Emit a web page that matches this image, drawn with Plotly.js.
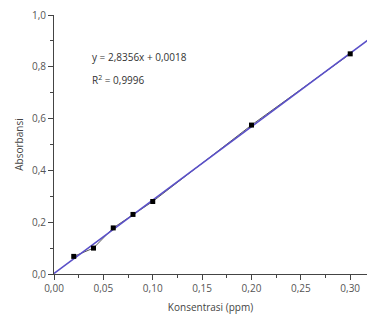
<!DOCTYPE html>
<html>
<head>
<meta charset="utf-8">
<script src="https://cdn.plot.ly/plotly-3.0.1.min.js"></script>
<style>html,body{margin:0;padding:0;background:#fff;}#chart{width:367px;height:323px;}</style>
</head>
<body>
<div id="chart"></div>
<script>
const konsentrasi = [0.02, 0.04, 0.06, 0.08, 0.10, 0.20, 0.30];
const absorbansi = [0.068, 0.100, 0.178, 0.230, 0.280, 0.575, 0.850];
const slope = 2.8356;
const intercept = 0.0018;
const fitX = [0, 0.32];
const fitY = fitX.map(x => slope * x + intercept);
const xTicks = [0, 0.05, 0.10, 0.15, 0.20, 0.25, 0.30];
const xTickLabels = ["0,00", "0,05", "0,10", "0,15", "0,20", "0,25", "0,30"];
const yTicks = [0, 0.2, 0.4, 0.6, 0.8, 1.0];
const yTickLabels = ["0,0", "0,2", "0,4", "0,6", "0,8", "1,0"];

const font = "Open Sans, Liberation Sans, sans-serif";
const traces = [
  {x: konsentrasi, y: absorbansi, mode: 'lines', line: {color: '#555', width: 1}, hoverinfo: 'skip'},
  {x: fitX, y: fitY, mode: 'lines', line: {color: '#5a50c8', width: 1.5}},
  {x: konsentrasi, y: absorbansi, mode: 'markers', marker: {symbol: 'square', size: 5, color: '#000'}}
];
const axisCommon = {
  showgrid: false, zeroline: false, showline: true, linecolor: '#444', linewidth: 1,
  ticks: 'outside', ticklen: 5, tickcolor: '#444', tickwidth: 1,
  tickfont: {family: font, size: 10, color: '#555'}
};
const layout = {
  width: 367, height: 323,
  margin: {l: 54, r: 0, t: 15, b: 49},
  paper_bgcolor: '#fff', plot_bgcolor: '#fff',
  showlegend: false,
  xaxis: Object.assign({}, axisCommon, {
    range: [0, 0.317], tickvals: xTicks, ticktext: xTickLabels,
    minor: {ticks: 'outside', dtick: 0.025, ticklen: 3, tickcolor: '#444'},
    title: {text: 'Konsentrasi (ppm)', font: {family: font, size: 10, color: '#444'}, standoff: 9}
  }),
  yaxis: Object.assign({}, axisCommon, {
    range: [0, 1.0], tickvals: yTicks, ticktext: yTickLabels,
    minor: {ticks: 'outside', dtick: 0.1, ticklen: 3, tickcolor: '#444'},
    title: {text: 'Absorbansi', font: {family: font, size: 10, color: '#444'}, standoff: 6}
  }),
  annotations: [
    {x: 0.036, y: 0.838, xref: 'x', yref: 'y', xanchor: 'left', yanchor: 'middle', showarrow: false,
     text: 'y = 2,8356x + 0,0018', font: {family: font, size: 10, color: '#333'}},
    {x: 0.036, y: 0.749, xref: 'x', yref: 'y', xanchor: 'left', yanchor: 'middle', showarrow: false,
     text: 'R<sup>2</sup> = 0,9996', font: {family: font, size: 10, color: '#333'}}
  ]
};
Plotly.newPlot('chart', traces, layout, {displayModeBar: false, staticPlot: true});
</script>
</body>
</html>
